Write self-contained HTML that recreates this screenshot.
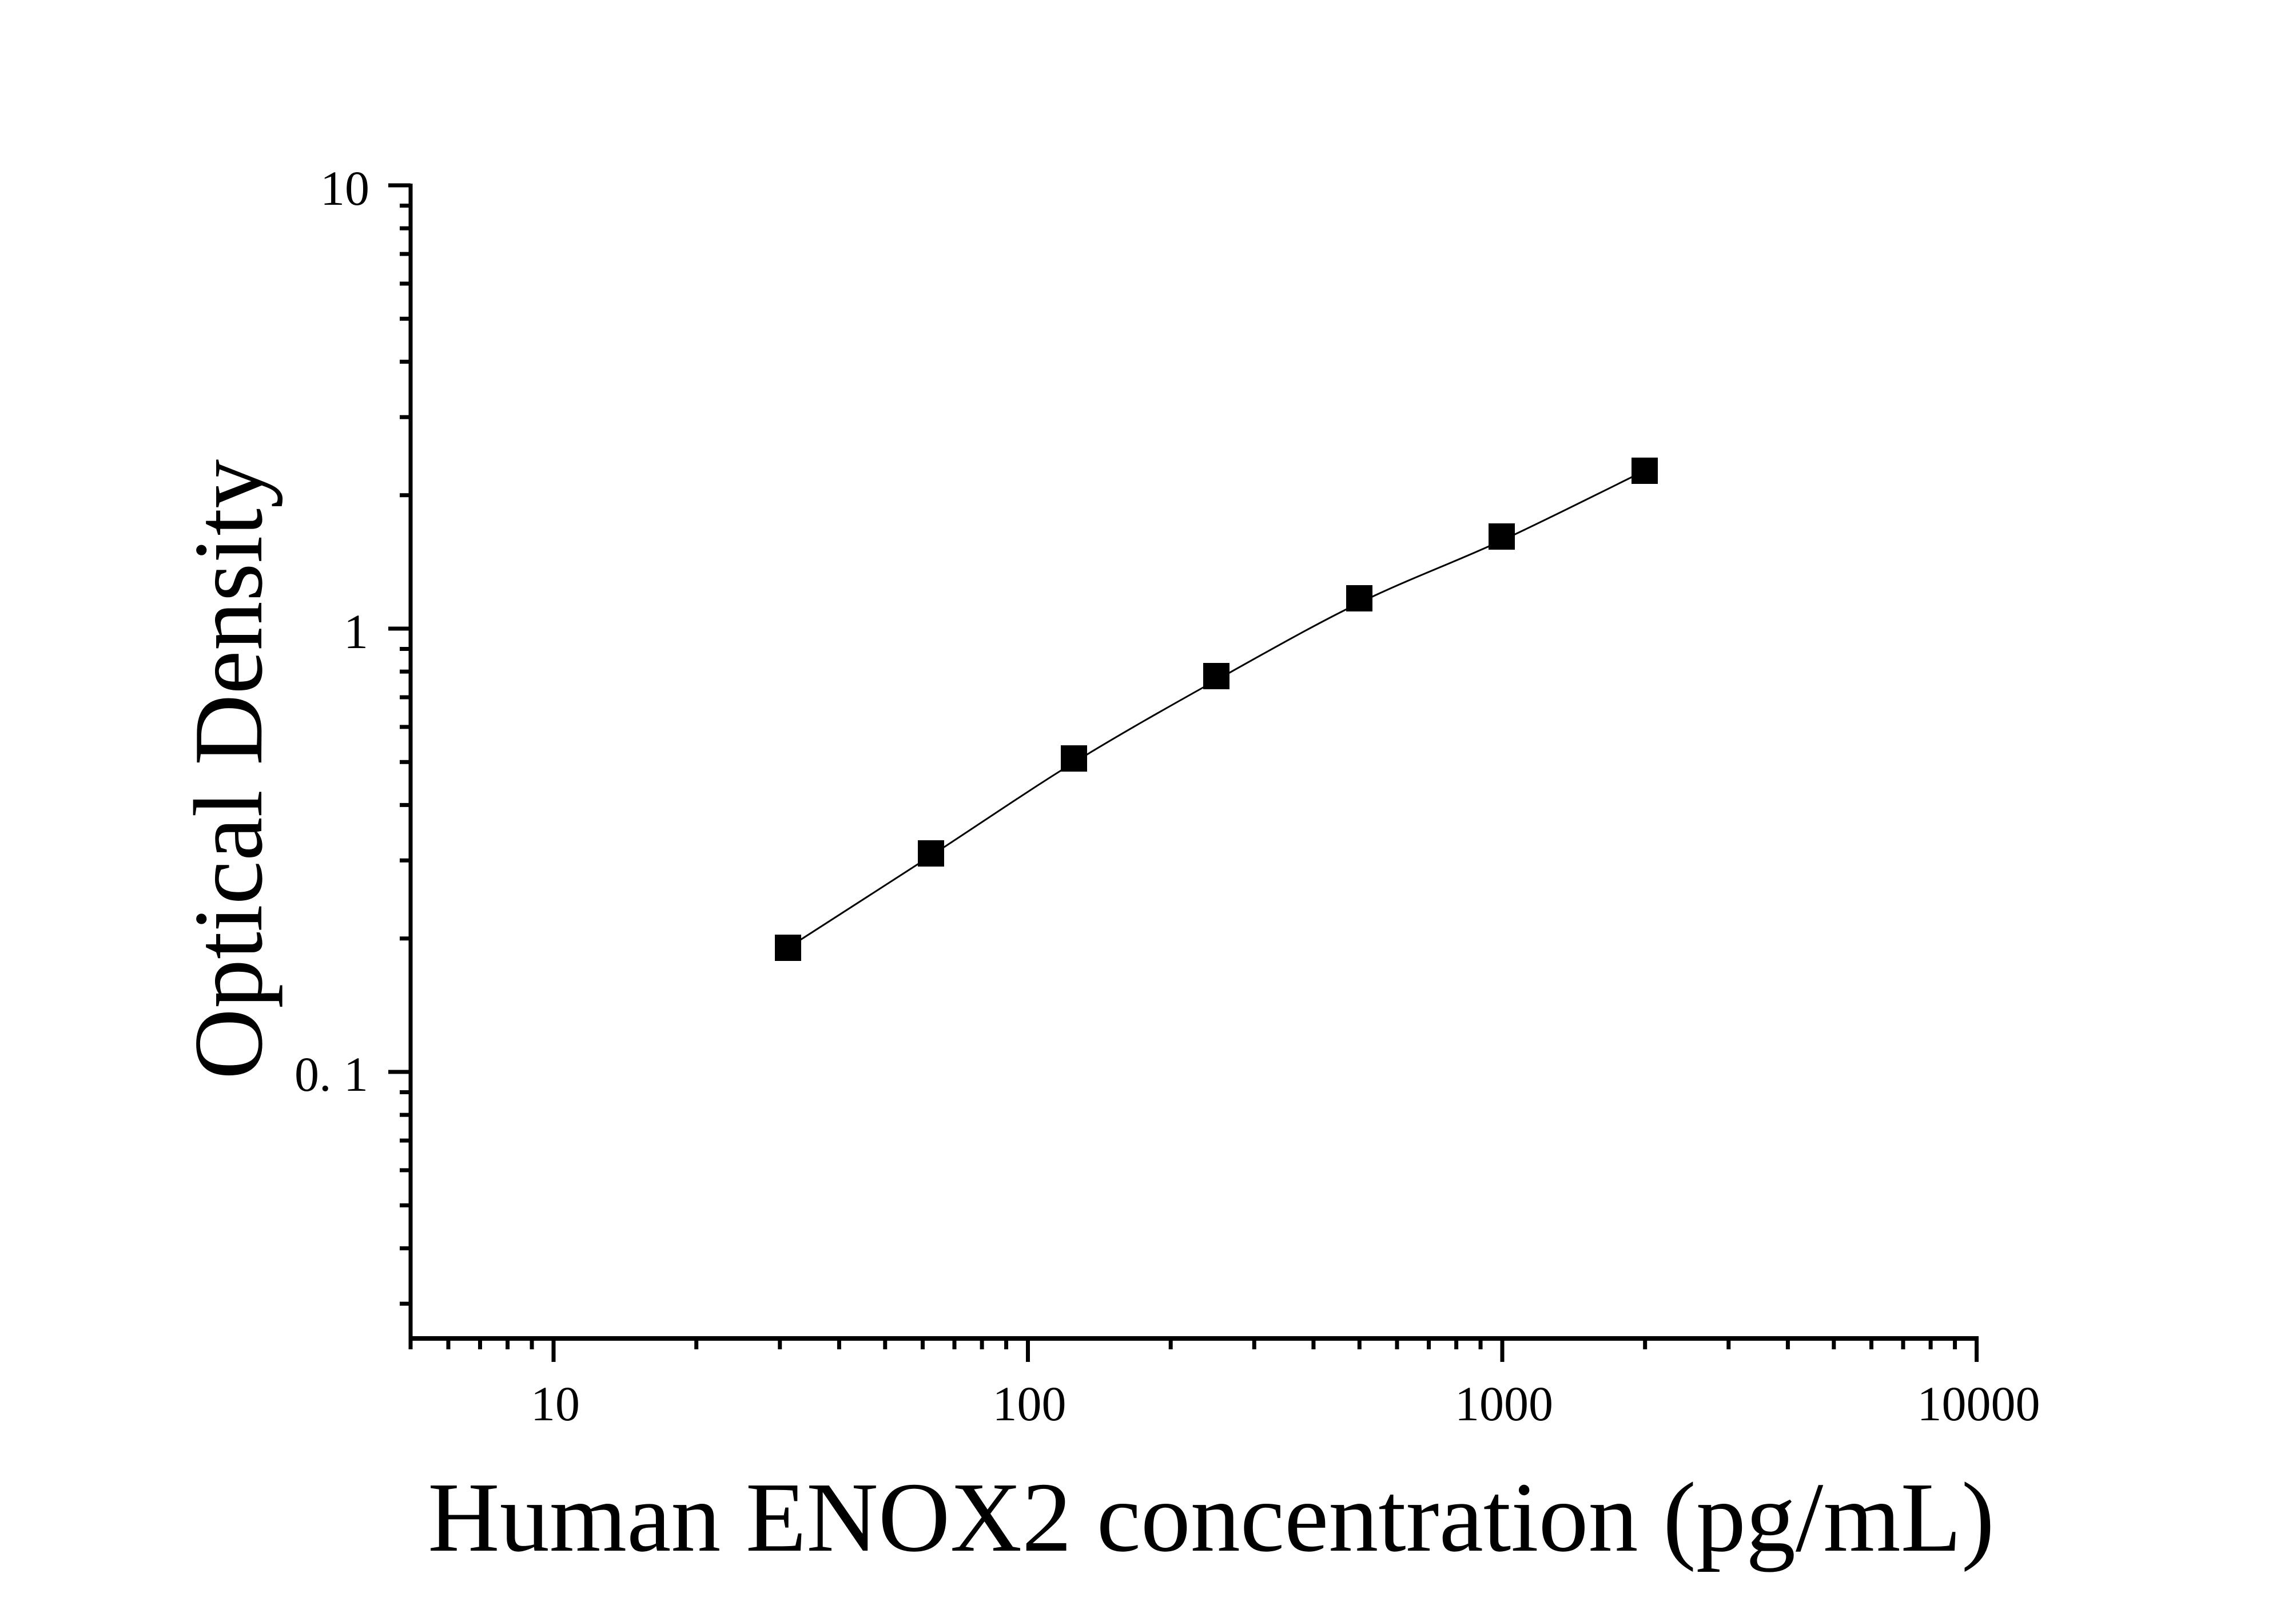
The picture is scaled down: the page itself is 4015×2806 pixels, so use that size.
<!DOCTYPE html>
<html><head><meta charset="utf-8"><style>
html,body{margin:0;padding:0;background:#fff;}
svg{display:block;}
text{font-family:"Liberation Serif","Times New Roman",serif;fill:#000;}
</style></head><body>
<svg id="s" width="4015" height="2806" viewBox="0 0 4015 2806" xmlns="http://www.w3.org/2000/svg">
<rect width="4015" height="2806" fill="#fff"/>
<g id="ticks" stroke="#000" stroke-width="7"></g>
<line x1="718" y1="321" x2="718" y2="2344" stroke="#000" stroke-width="7"/>
<line x1="715" y1="2340" x2="3460" y2="2340" stroke="#000" stroke-width="8"/>
<g font-size="86" text-anchor="end">
<text x="646" y="358">10</text>
<text x="644" y="1133">1</text>
<text x="644" y="1907">0. 1</text>
</g>
<g font-size="86" text-anchor="middle">
<text x="971" y="2483">10</text>
<text x="1800" y="2483">100</text>
<text x="2630" y="2483">1000</text>
<text x="3460" y="2483">10000</text>
</g>
<text x="2118" y="2711" font-size="174" text-anchor="middle">Human ENOX2 concentration (pg/mL)</text>
<text transform="translate(457,1345) rotate(-90)" font-size="172" text-anchor="middle">Optical Density</text>
<path id="curve" fill="none" stroke="#000" stroke-width="3"/>
<g id="pts"></g>
</svg>
<script>
var NS="http://www.w3.org/2000/svg";
function X(v){return 968+829.5*(Math.log10(v)-1);}
function Y(v){return 1099-775*Math.log10(v);}
var t=document.getElementById('ticks');
function ln(x1,y1,x2,y2){var l=document.createElementNS(NS,'line');l.setAttribute('x1',x1);l.setAttribute('y1',y1);l.setAttribute('x2',x2);l.setAttribute('y2',y2);t.appendChild(l);}
[10,1,0.1].forEach(function(v){ln(679,Y(v),718,Y(v));});
[0.01,0.1,1].forEach(function(d){for(var k=2;k<=9;k++){var v=k*d;var y=Y(v);if(y<2336&&y>324)ln(699,y,718,y);}});
[10,100,1000,10000].forEach(function(v){ln(X(v),2340,X(v),2381);});
ln(718,2340,718,2359);
[1,10,100,1000].forEach(function(d){for(var k=2;k<=9;k++){var v=k*d;var x=X(v);if(x>720&&x<3456)ln(x,2340,x,2359);}});
var px=[1378,1628,1878,2127,2377,2626,2876];
var py=[1657,1492,1326,1182,1046,938,823];
var cy=[1657,1496,1333,1189,1054,945,823];
var d='M'+px[0]+','+cy[0];
for(var i=0;i<px.length-1;i++){
 var x0=px[Math.max(i-1,0)],y0=cy[Math.max(i-1,0)],x1=px[i],y1=cy[i],x2=px[i+1],y2=cy[i+1],x3=px[Math.min(i+2,px.length-1)],y3=cy[Math.min(i+2,px.length-1)];
 d+=' C'+(x1+(x2-x0)/6)+','+(y1+(y2-y0)/6)+' '+(x2-(x3-x1)/6)+','+(y2-(y3-y1)/6)+' '+x2+','+y2;
}
document.getElementById('curve').setAttribute('d',d);
var g=document.getElementById('pts');
for(var i=0;i<px.length;i++){var r=document.createElementNS(NS,'rect');r.setAttribute('x',px[i]-23);r.setAttribute('y',py[i]-23);r.setAttribute('width',46);r.setAttribute('height',46);r.setAttribute('fill','#000');g.appendChild(r);}
</script>
</body></html>
